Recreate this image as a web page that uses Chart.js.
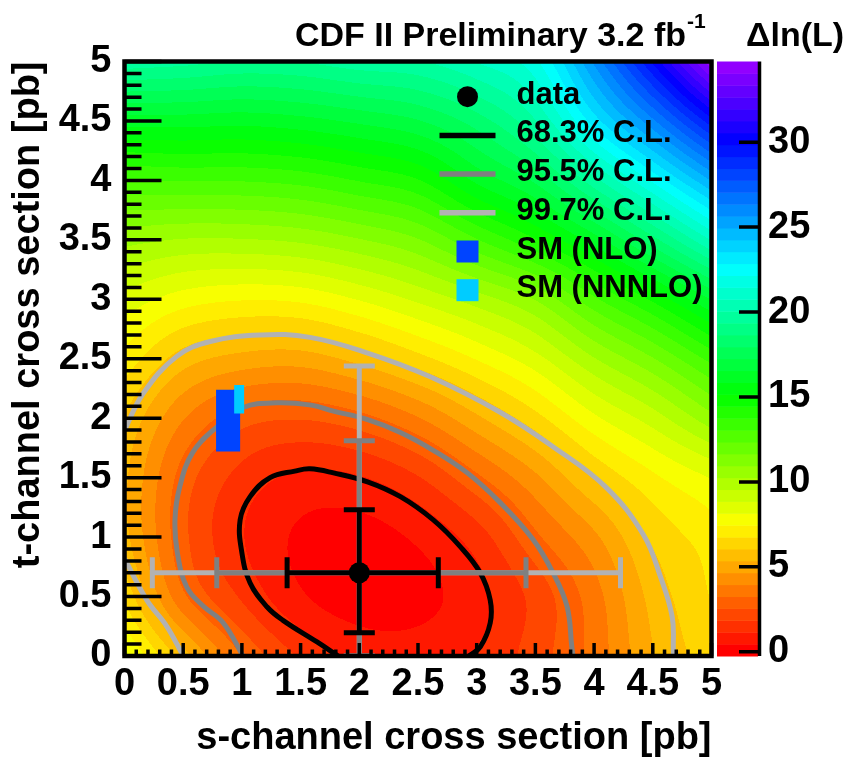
<!DOCTYPE html>
<html>
<head>
<meta charset="utf-8">
<script src="https://cdn.jsdelivr.net/npm/chart.js@4.4.1/dist/chart.umd.min.js"></script>
<style>
  html, body { margin: 0; padding: 0; background: #fff; }
</style>
</head>
<body>
<canvas id="cdf" width="861" height="760"></canvas>
<script>
const FONT = "'Liberation Sans', Arial, Helvetica, sans-serif";

// Delta ln(L) on a 0.5 pb grid (rows = t, columns = s)
const gridS = [0, 0.5, 1, 1.5, 2, 2.5, 3, 3.5, 4, 4.5, 5];
const gridT = [0, 0.5, 1, 1.5, 2, 2.5, 3, 3.5, 4, 4.5, 5];
const dlnL = [
  [8.4, 5.7, 3.25, 1.75, 0.95, 0.8, 1.2, 2.2, 3.5, 5.3, 6.5],
  [6.6, 3.4, 1.75, 0.55, 0.08, 0.22, 0.9, 2.1, 3.65, 5.6, 6.8],
  [5.6, 2.75, 1.2, 0.33, 0.16, 0.58, 1.5, 3.1, 4.5, 6.2, 7.1],
  [5.5, 2.95, 1.6, 1.0, 1.1, 1.8, 3.1, 4.5, 6.1, 7.3, 8.2],
  [6.0, 4.0, 2.85, 2.6, 3.0, 3.9, 5.2, 6.5, 8.0, 9.2, 10.7],
  [7.2, 5.7, 5.1, 5.0, 5.6, 6.5, 7.5, 8.6, 10.2, 11.6, 13.3],
  [8.6, 7.8, 7.5, 7.6, 8.2, 9.0, 9.9, 11.0, 12.9, 14.6, 16.6],
  [10.5, 10.2, 10.2, 10.4, 10.9, 11.6, 13.0, 14.4, 16.2, 18.4, 20.8],
  [13.0, 13.1, 13.1, 13.3, 13.8, 14.4, 16.0, 17.4, 19.8, 22.3, 25.0],
  [16.2, 16.2, 16.1, 16.3, 16.7, 17.2, 18.3, 20.0, 23.2, 26.2, 29.6],
  [19.8, 19.6, 19.3, 19.4, 19.8, 20.0, 20.8, 22.0, 25.8, 30.0, 34.7]
];
const zMin = -0.25, zMax = 34.75, nLevels = 50;
const cbTicks = [0, 5, 10, 15, 20, 25, 30];

// best fit and 1D intervals (68.3, 95.5, 99.7 %)
const dataS = [2.0];
const dataT = [0.7];
const sErrLow = [1.385, 0.786, 0.237];
const sErrHigh = [2.673, 3.42, 4.225];
const tErrLow = [0.196, 0, 0];
const tErrHigh = [1.229, 1.81, 2.44];

// contours
const cl683 = [[2.935,0],[3.03,0.076],[3.115,0.278],[3.115,0.471],[3.03,0.70],[2.86,0.92],[2.63,1.145],[2.35,1.34],[2.07,1.465],[1.78,1.54],[1.58,1.574],[1.45,1.555],[1.24,1.50],[1.07,1.34],[0.985,1.145],[1.0,0.867],[1.07,0.614],[1.215,0.412],[1.35,0.30],[1.64,0.118],[1.82,0]];
const cl955 = [[1.01,0],[0.84,0.28],[0.67,0.42],[0.53,0.58],[0.45,0.87],[0.43,1.145],[0.47,1.42],[0.58,1.71],[0.79,1.93],[1.01,2.09],[1.30,2.13],[1.59,2.11],[1.78,2.06],[2.065,1.99],[2.35,1.88],[2.63,1.73],[2.92,1.54],[3.20,1.29],[3.48,0.98],[3.65,0.70],[3.77,0.415],[3.81,0.078],[3.82,0]];
const cl997 = [[0,1.90],[0.16,2.21],[0.445,2.52],[0.73,2.645],[1.155,2.70],[1.58,2.68],[2.065,2.55],[2.6,2.35],[3.2,2.05],[3.65,1.76],[4.1,1.42],[4.42,1.02],[4.565,0.667],[4.665,0.33],[4.675,0.05],[4.675,0]];
const cl997low = [[0,0.82],[0.19,0.47],[0.36,0.25],[0.50,0]];

// SM predictions (s range, t range)
const smNLO = { s: [0.78, 0.985], t: [1.72, 2.24] };
const smNNNLO = { s: [0.934, 1.019], t: [2.04, 2.28] };

const legendLabels = ['data', '68.3% C.L.', '95.5% C.L.', '99.7% C.L.', 'SM (NLO)', 'SM (NNNLO)'];
const clColors = ['#000000', '#808080', '#b2b2b2'];
const smColors = ['#0044ff', '#00ccff'];

const pts = arr => arr.map(p => ({ x: p[0], y: p[1] }));
const box = r => [
  { x: r.s[0], y: r.t[0] }, { x: r.s[1], y: r.t[0] },
  { x: r.s[1], y: r.t[1] }, { x: r.s[0], y: r.t[1] }, { x: r.s[0], y: r.t[0] }
];

// ROOT "pretty" palette, reversed: red (low) -> violet (high)
function hueRgb(h) {
  const f = n => {
    const k = (n + h / 30) % 12;
    return 0.5 - 0.5 * Math.max(-1, Math.min(k - 3, 9 - k, 1));
  };
  return [Math.round(255 * f(0)), Math.round(255 * f(8)), Math.round(255 * f(4))];
}
const palette = [];
for (let k = 0; k < nLevels; k++) palette.push(hueRgb(k * 280 / nLevels));

function gridAt(i, j) {
  const ni = gridS.length, nj = gridT.length;
  if (i < 0) return 2 * gridAt(0, j) - gridAt(1, j);
  if (i >= ni) return 2 * gridAt(ni - 1, j) - gridAt(ni - 2, j);
  if (j < 0) return 2 * gridAt(i, 0) - gridAt(i, 1);
  if (j >= nj) return 2 * gridAt(i, nj - 1) - gridAt(i, nj - 2);
  return dlnL[j][i];
}
function cr(p0, p1, p2, p3, t) {
  return 0.5 * (2 * p1 + (p2 - p0) * t + (2 * p0 - 5 * p1 + 4 * p2 - p3) * t * t + (3 * p1 - p0 - 3 * p2 + p3) * t * t * t);
}
function field(s, t) {
  const fs = (s - gridS[0]) / (gridS[1] - gridS[0]);
  const ft = (t - gridT[0]) / (gridT[1] - gridT[0]);
  const i = Math.max(0, Math.min(Math.floor(fs), gridS.length - 2));
  const j = Math.max(0, Math.min(Math.floor(ft), gridT.length - 2));
  const u = fs - i, v = ft - j;
  const c = [];
  for (let m = -1; m <= 2; m++) c.push(cr(gridAt(i - 1, j + m), gridAt(i, j + m), gridAt(i + 1, j + m), gridAt(i + 2, j + m), u));
  return cr(c[0], c[1], c[2], c[3], v);
}
function levelOf(v) {
  const k = Math.floor((v - zMin) / (zMax - zMin) * nLevels);
  return Math.max(0, Math.min(nLevels - 1, k));
}

const heatmap = {
  id: 'heatmap',
  beforeDatasetsDraw(chart) {
    const { ctx, chartArea: a, scales: { x, y } } = chart;
    const x0 = Math.round(a.left), y0 = Math.round(a.top);
    const w = Math.round(a.right) - x0, h = Math.round(a.bottom) - y0;
    const img = ctx.createImageData(w, h);
    for (let j = 0; j < h; j++) {
      const t = y.getValueForPixel(y0 + j + 0.5);
      for (let i = 0; i < w; i++) {
        const s = x.getValueForPixel(x0 + i + 0.5);
        const c = palette[levelOf(field(s, t))];
        const o = (j * w + i) * 4;
        img.data[o] = c[0]; img.data[o + 1] = c[1]; img.data[o + 2] = c[2]; img.data[o + 3] = 255;
      }
    }
    ctx.putImageData(img, x0, y0);
  }
};

const errorBars = {
  id: 'errorBars',
  afterDatasetDraw(chart, args) {
    if (args.index !== 3) return;
    const { ctx, chartArea: a, scales: { x, y } } = chart;
    const cx = x.getPixelForValue(dataS[0]), cy = y.getPixelForValue(dataT[0]);
    const cap = 15.5;
    ctx.save();
    ctx.beginPath();
    ctx.rect(a.left, a.top, a.right - a.left, a.bottom - a.top);
    ctx.clip();
    for (let k = 2; k >= 0; k--) {
      const xl = x.getPixelForValue(sErrLow[k]), xh = x.getPixelForValue(sErrHigh[k]);
      const yl = y.getPixelForValue(tErrLow[k]), yh = y.getPixelForValue(tErrHigh[k]);
      ctx.strokeStyle = clColors[k];
      ctx.lineWidth = 5;
      ctx.beginPath();
      ctx.moveTo(xl, cy); ctx.lineTo(xh, cy);
      ctx.moveTo(cx, yl); ctx.lineTo(cx, yh);
      ctx.moveTo(xl, cy - cap); ctx.lineTo(xl, cy + cap);
      ctx.moveTo(xh, cy - cap); ctx.lineTo(xh, cy + cap);
      ctx.moveTo(cx - cap, yl); ctx.lineTo(cx + cap, yl);
      ctx.moveTo(cx - cap, yh); ctx.lineTo(cx + cap, yh);
      ctx.stroke();
    }
    ctx.restore();
  }
};

const frame = {
  id: 'frame',
  afterDatasetsDraw(chart) {
    const { ctx, chartArea: a, scales: { x, y, cb } } = chart;
    ctx.save();
    ctx.strokeStyle = '#000';
    ctx.lineWidth = 3.5;
    ctx.beginPath();
    for (let k = 0; k <= 50; k++) {
      const major = k % 5 === 0;
      const px = x.getPixelForValue(k / 10);
      ctx.moveTo(px, a.bottom); ctx.lineTo(px, a.bottom - (major ? 13 : 6.5));
      const py = y.getPixelForValue(k / 10);
      ctx.moveTo(a.left, py); ctx.lineTo(a.left + (major ? 37 : 17), py);
    }
    ctx.stroke();
    ctx.lineWidth = 4.5;
    ctx.strokeRect(a.left, a.top, a.right - a.left, a.bottom - a.top);

    // colour bar
    const bl = a.right + 5.5, br = a.right + 46.5;
    for (let k = 0; k < nLevels; k++) {
      const v0 = zMin + k * (zMax - zMin) / nLevels, v1 = zMin + (k + 1) * (zMax - zMin) / nLevels;
      const p0 = cb.getPixelForValue(v0), p1 = cb.getPixelForValue(v1);
      const c = palette[k];
      ctx.fillStyle = `rgb(${c[0]},${c[1]},${c[2]})`;
      ctx.fillRect(bl, p1, br - bl, p0 - p1 + 0.5);
    }
    ctx.lineWidth = 3.5;
    ctx.beginPath();
    ctx.moveTo(br + 1.5, a.top); ctx.lineTo(br + 1.5, a.bottom);
    cb.ticks.forEach(t => {
      const py = cb.getPixelForValue(t.value);
      ctx.moveTo(br + 3, py); ctx.lineTo(br - 19, py);
    });
    ctx.stroke();

    // legend
    const lx = a.left + 343, tx = a.left + 392;
    ctx.font = `bold 31px ${FONT}`;
    ctx.textBaseline = 'middle';
    ctx.textAlign = 'left';
    legendLabels.forEach((lab, i) => {
      const ly = a.top + 35.2 + i * 38.7;
      if (i === 0) {
        ctx.fillStyle = '#000';
        ctx.beginPath(); ctx.arc(lx, ly, 10.5, 0, Math.PI * 2); ctx.fill();
      } else if (i <= 3) {
        ctx.strokeStyle = clColors[i - 1];
        ctx.lineWidth = 5.5;
        ctx.beginPath(); ctx.moveTo(lx - 28, ly); ctx.lineTo(lx + 28, ly); ctx.stroke();
      } else {
        ctx.fillStyle = smColors[i - 4];
        ctx.fillRect(lx - 11, ly - 11, 22, 22);
      }
      ctx.fillStyle = '#000';
      ctx.fillText(lab, tx, ly - 1.5);
    });

    // titles
    ctx.textBaseline = 'alphabetic';
    ctx.font = `bold 34px ${FONT}`;
    ctx.textAlign = 'right';
    ctx.fillText('CDF II Preliminary 3.2 fb', 686, 46);
    ctx.font = `bold 21px ${FONT}`;
    ctx.textAlign = 'left';
    ctx.fillText('-1', 687, 28);
    ctx.font = `bold 34px ${FONT}`;
    ctx.fillText('\u0394ln(L)', 746, 46);
    ctx.restore();
  }
};

const tickFont = { family: FONT, size: 38, weight: 'bold' };
const fmt = v => String(Math.round(v * 10) / 10);
const lineSet = (data, color) => ({
  data: pts(data), showLine: true, borderColor: color, borderWidth: 5,
  pointRadius: 0, tension: 0.4, fill: false
});
const rectSet = (r, color) => ({
  data: box(r), showLine: true, borderColor: 'rgba(0,0,0,0)', borderWidth: 1,
  backgroundColor: color, fill: 'shape', pointRadius: 0, tension: 0
});

new Chart(document.getElementById('cdf'), {
  type: 'scatter',
  data: {
    datasets: [
      { data: dataS.map((s, i) => ({ x: s, y: dataT[i] })), pointRadius: 10.5, backgroundColor: '#000', borderWidth: 0 },
      rectSet(smNNNLO, smColors[1]),
      rectSet(smNLO, smColors[0]),
      lineSet(cl683, clColors[0]),
      lineSet(cl955, clColors[1]),
      lineSet(cl997, clColors[2]),
      lineSet(cl997low, clColors[2])
    ]
  },
  options: {
    responsive: false,
    animation: false,
    events: [],
    locale: 'en-US',
    layout: { padding: { top: 61.5, right: 0, bottom: 0, left: 0 } },
    plugins: { legend: { display: false }, tooltip: { enabled: false } },
    scales: {
      x: {
        type: 'linear', position: 'bottom', min: 0, max: 5,
        ticks: { stepSize: 0.5, color: '#000', font: tickFont, padding: 6, maxRotation: 0, autoSkip: false, includeBounds: false, callback: fmt },
        grid: { display: false, drawTicks: false },
        border: { display: false },
        title: { display: true, text: 's-channel cross section [pb]', align: 'end', color: '#000', font: { family: FONT, size: 38, weight: 'bold', lineHeight: 1 }, padding: { top: 0, bottom: 2 } },
        afterFit(scale) { scale.height = 104; }
      },
      y: {
        type: 'linear', position: 'left', min: 0, max: 5,
        ticks: { stepSize: 0.5, color: '#000', font: tickFont, padding: 0, autoSkip: false, includeBounds: false, callback: fmt },
        grid: { display: false, drawTicks: true, tickLength: 13 },
        border: { display: false },
        title: { display: true, text: 't-channel cross section [pb]', align: 'end', color: '#000', font: { family: FONT, size: 38, weight: 'bold', lineHeight: 1 }, padding: { top: 9.5, bottom: 0 } },
        afterFit(scale) { scale.width = 124.5; }
      },
      cb: {
        type: 'linear', position: 'right', min: zMin, max: zMax,
        ticks: { color: '#000', font: tickFont, padding: 0, autoSkip: false },
        afterBuildTicks(scale) { scale.ticks = cbTicks.map(v => ({ value: v })); },
        grid: { display: false, drawTicks: true, tickLength: 56.5 },
        border: { display: false },
        afterFit(scale) { scale.width = 149.5; }
      }
    }
  },
  plugins: [heatmap, errorBars, frame]
});
</script>
</body>
</html>
